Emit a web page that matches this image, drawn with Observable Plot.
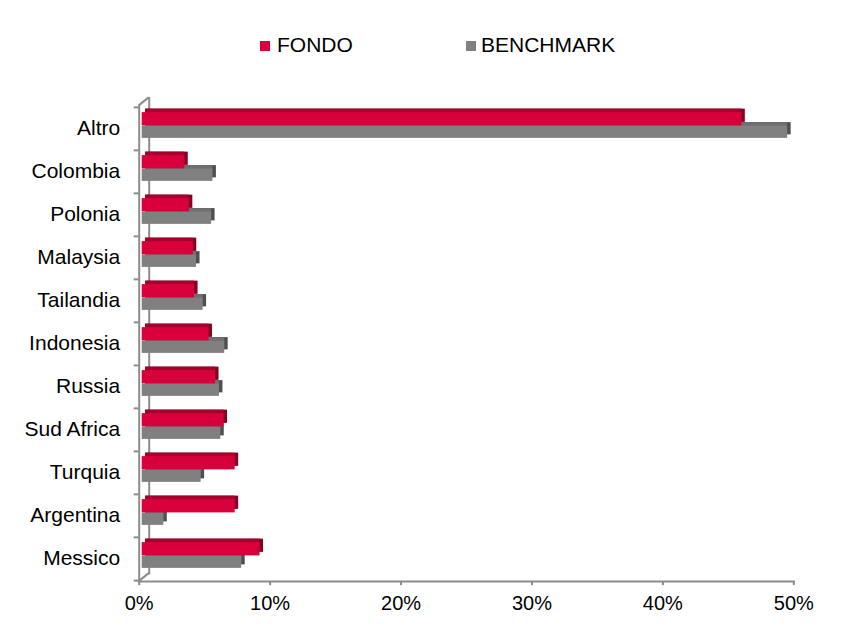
<!DOCTYPE html>
<html>
<head>
<meta charset="utf-8">
<script src="https://cdn.jsdelivr.net/npm/d3@7"></script>
<script src="https://cdn.jsdelivr.net/npm/@observablehq/plot@0.6"></script>
<style>
  html, body { margin: 0; padding: 0; background: #fff; }
  #legend { position: relative; width: 841px; height: 80px; font-family: "Liberation Sans", Arial, sans-serif; font-size: 21px; color: #000; }
  #legend .sw { position: absolute; width: 10px; height: 10px; }
  #legend .lb { position: absolute; line-height: 21px; white-space: nowrap; }
</style>
</head>
<body>
<div id="legend"></div>
<div id="chart"></div>
<script>
const categories = ["Altro", "Colombia", "Polonia", "Malaysia", "Tailandia", "Indonesia", "Russia", "Sud Africa", "Turquia", "Argentina", "Messico"];
const fondo =     [45.8, 3.25, 3.6, 3.9, 4.0, 5.1, 5.6, 6.25, 7.1, 7.1, 9.0];
const benchmark = [49.3, 5.4, 5.3, 4.15, 4.65, 6.3, 5.9, 6.0, 4.5, 1.65, 7.6];
const xTicks = [0, 10, 20, 30, 40, 50];
const seriesNames = ["FONDO", "BENCHMARK"];
const colors = {
  FONDO: {front: "#d7003a", top: "#a6002c", side: "#86001f"},
  BENCHMARK: {front: "#808080", top: "#6f6f6f", side: "#4f4f4f"}
};

// legend
const legend = document.getElementById("legend");
[["FONDO", 260, 277], ["BENCHMARK", 466, 481]].forEach(([name, sx, tx]) => {
  const sw = document.createElement("span");
  sw.className = "sw";
  sw.style.left = sx + "px"; sw.style.top = "41px";
  sw.style.background = colors[name].front;
  legend.appendChild(sw);
  const lb = document.createElement("span");
  lb.className = "lb";
  lb.style.left = tx + "px"; lb.style.top = "34px";
  lb.textContent = name;
  legend.appendChild(lb);
});

const fondoData = categories.map((c, i) => ({category: c, value: fondo[i]}));
const benchData = categories.map((c, i) => ({category: c, value: benchmark[i]}));

const H = 544;
const marginTop = 22.4;
const marginBottom = 45.9;
const n = categories.length;
const step = (H - marginTop - marginBottom) / n;
const half = step / 2;
const depth = 3.5;
const lineColor = "#8c8c8c";
const font = "Liberation Sans, Arial, sans-serif";

function bars3d(data, name, insetTop, insetBottom) {
  const c = colors[name];
  return [
    Plot.barX(data, {y: "category", x: "value", fill: c.side, insetTop, insetBottom, dx: depth, dy: -depth}),
    Plot.barX(data, {y: "category", x: "value", fill: c.top, insetTop, insetBottom, insetRight: depth, dx: depth, dy: -depth}),
    Plot.barX(data, {y: "category", x: "value", fill: c.front, insetTop, insetBottom})
  ];
}

function diagonals(index, scales, values, dimensions) {
  const {marginLeft, marginTop, marginBottom, height} = dimensions;
  const g = d3.create("svg:g").attr("stroke", lineColor).attr("stroke-width", 2).attr("fill", "none");
  const yT = marginTop, yB = height - marginBottom;
  g.append("line").attr("x1", marginLeft - 3).attr("y1", yT + 3).attr("x2", marginLeft + 7).attr("y2", yT - 5);
  g.append("line").attr("x1", marginLeft - 3).attr("y1", yB + 3).attr("x2", marginLeft + 7).attr("y2", yB - 5);
  return g.node();
}

const plot = Plot.plot({
  width: 841,
  height: H,
  marginLeft: 141.7,
  marginRight: 44.7,
  marginTop,
  marginBottom,
  style: {fontFamily: font, fontSize: "21px", color: "#000", background: "#fff", overflow: "visible"},
  x: {domain: [0, 50], axis: null, label: null},
  y: {domain: categories, padding: 0, axis: null, label: null},
  marks: [
    // back wall edge
    Plot.frame({anchor: "left", dx: 7, dy: -5, stroke: lineColor, strokeWidth: 2}),
    diagonals,
    ...bars3d(benchData, "BENCHMARK", half, half - 12.5),
    ...bars3d(fondoData, "FONDO", half - 13.5, half),
    // front axis lines
    Plot.frame({anchor: "left", dx: -3, dy: 3, stroke: lineColor, strokeWidth: 2}),
    Plot.frame({anchor: "bottom", dx: -3, dy: 3, stroke: lineColor, strokeWidth: 2}),
    // y tick marks at band boundaries
    Plot.axisY({anchor: "left", tickSize: 5, text: null, label: null, dx: -3, dy: -half + 3, stroke: lineColor, strokeWidth: 2}),
    Plot.axisY(["Messico"], {anchor: "left", tickSize: 5, text: null, label: null, dx: -3, dy: half + 3, stroke: lineColor, strokeWidth: 2}),
    // y labels
    Plot.axisY({anchor: "left", tickSize: 0, tickPadding: 22, dy: 2, fontSize: 21, fill: "#000", label: null}),
    // x axis
    Plot.axisX(xTicks, {anchor: "bottom", tickSize: 4, tickPadding: 10, dx: -3, dy: 3, stroke: lineColor, strokeWidth: 2, fontSize: 20, fill: "#000", label: null, tickFormat: d => d + "%"})
  ]
});
document.getElementById("chart").appendChild(plot);
</script>
</body>
</html>
